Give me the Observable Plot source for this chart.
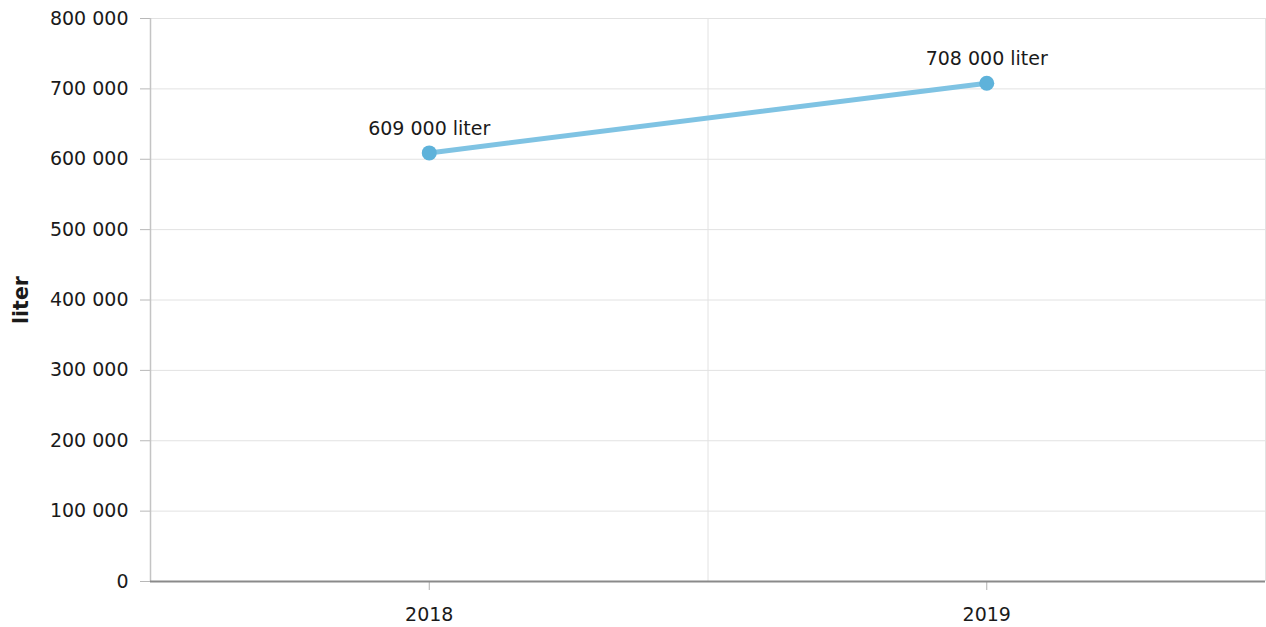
<!DOCTYPE html>
<html>
<head>
<meta charset="utf-8">
<script src="https://cdn.jsdelivr.net/npm/d3@7"></script>
<script src="https://cdn.jsdelivr.net/npm/@observablehq/plot@0.6"></script>
<style>
  html, body { margin: 0; padding: 0; background: #fff; }
  #chart svg { display: block; }
  g[aria-label^="y-axis"] path, g[aria-label^="y-axis"] line { stroke: #b8b8b8; }
  g[aria-label^="x-axis"] path, g[aria-label^="x-axis"] line { stroke: #b0b0b0; }
</style>
</head>
<body>
<div id="chart"></div>
<script>
const years = [2018, 2019];
const values = [609000, 708000];
const yTicks = [0, 100000, 200000, 300000, 400000, 500000, 600000, 700000, 800000];
const unit = "liter";

const data = years.map((year, i) => ({year, value: values[i]}));
const loc = d3.formatLocale({decimal: ",", thousands: " ", grouping: [3], currency: ["", ""]});
const fmt = loc.format(",");

const chart = Plot.plot({
  width: 1266,
  height: 627,
  marginLeft: 150,
  marginRight: 1,
  marginTop: 18,
  marginBottom: 46,
  style: {fontFamily: "DejaVu Sans, Verdana, sans-serif", fontSize: "19px", color: "#1a1a1a", background: "#fff"},
  x: {type: "linear", domain: [2017.5, 2019.5], ticks: years, tickFormat: d => String(d), tickSize: 9, tickPadding: 17, label: null},
  y: {domain: [0, 800000], ticks: yTicks, tickFormat: fmt, tickSize: 10, tickPadding: 12, label: null},
  marks: [
    Plot.ruleY(yTicks.filter(d => d > 0), {stroke: "#e2e2e2", strokeWidth: 1}),
    Plot.ruleX([2018.5, 2019.5], {stroke: "#e2e2e2", strokeWidth: 1}),
    Plot.ruleX([2017.5], {stroke: "#c4c4c4", strokeWidth: 1.5}),
    Plot.ruleY([0], {stroke: "#8a8a8a", strokeWidth: 2}),
    Plot.line(data, {x: "year", y: "value", stroke: "#7fc3e3", strokeWidth: 5}),
    Plot.dot(data, {x: "year", y: "value", r: 7.5, fill: "#5eb2da", stroke: "none"}),
    Plot.text(data, {x: "year", y: "value", text: d => fmt(d.value) + " " + unit, dy: -24, fontSize: 19, fill: "#1a1a1a"}),
    Plot.text([unit], {frameAnchor: "left", textAnchor: "middle", dx: -129, rotate: -90, text: d => d, fontWeight: "bold", fontSize: 20.5, fill: "#1a1a1a"})
  ]
});
document.getElementById("chart").appendChild(chart);
</script>
</body>
</html>
